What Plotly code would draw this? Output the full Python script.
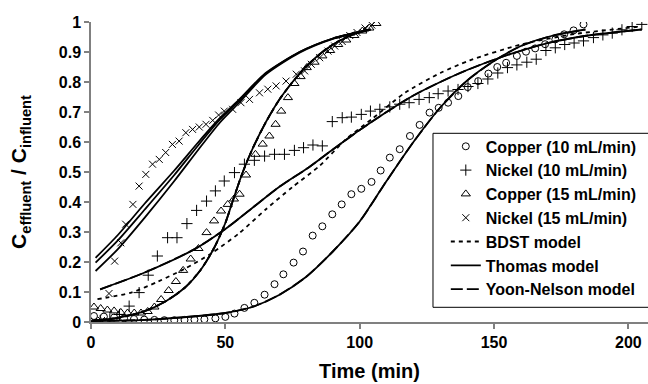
import plotly.graph_objects as go

# ---------------- data ----------------
cu10_t = [1.1, 4.8, 8.6, 12.3, 16, 19.8, 23.6, 27.3, 31, 34.8, 38.5, 42.2, 46.3, 50, 53.4, 57.1, 60.8,
          64.6, 68.3, 71.6, 75.4, 78.9, 82.5, 86.1, 89.8, 93.3, 96.9, 100.6, 104.4, 107.8, 111.2, 114.9,
          118.7, 122.3, 126, 129.4, 132.9, 136.7, 140.2, 144.1, 147.9, 151.2, 154.5, 158.5, 161.9, 165.3,
          169, 172.8, 176.1, 179.6, 183.3]
cu10_c = [0.02, 0.018, 0.015, 0.012, 0.01, 0.008, 0.007, 0.006, 0.006, 0.007, 0.008, 0.009, 0.012, 0.017,
          0.028, 0.047, 0.064, 0.091, 0.126, 0.159, 0.198, 0.235, 0.288, 0.319, 0.359, 0.392, 0.426, 0.444,
          0.467, 0.505, 0.548, 0.576, 0.62, 0.657, 0.698, 0.714, 0.731, 0.753, 0.783, 0.803, 0.828, 0.85,
          0.864, 0.887, 0.901, 0.912, 0.926, 0.942, 0.959, 0.972, 0.992]

ni10_t = [3.4, 7, 10.6, 14.2, 17.9, 21.3, 24.7, 28.5, 32, 35.7, 39.3, 43, 46.3, 49.6, 53.4, 57.1, 60.8,
          64.6, 68.3, 72, 75.7, 79.1, 82.6, 86.1, 89.8, 93.5, 96.9, 100.6, 104, 107.5, 111.2, 114.9, 118.4,
          122.1, 125.9, 129.2, 132.9, 136.6, 140.3, 144, 147.7, 151.4, 155, 158.5, 162.2, 165.7, 169.3,
          172.8, 176.3, 179.8, 183.3, 187, 190.5, 194, 197.6, 201.4, 205]
ni10_c = [0.005, 0.01, 0.025, 0.053, 0.098, 0.156, 0.22, 0.281, 0.281, 0.328, 0.372, 0.403, 0.437, 0.47,
          0.498, 0.526, 0.539, 0.553, 0.559, 0.559, 0.572, 0.581, 0.59, 0.587, 0.668, 0.681, 0.683, 0.692,
          0.703, 0.709, 0.717, 0.726, 0.731, 0.742, 0.748, 0.761, 0.77, 0.775, 0.785, 0.795, 0.81, 0.83,
          0.848, 0.857, 0.866, 0.876, 0.905, 0.914, 0.925, 0.93, 0.937, 0.948, 0.957, 0.963, 0.974, 0.985,
          0.992]

cu15_t = [1.1, 3.6, 6.1, 8.6, 11.1, 13.6, 16.1, 18.6, 21.1, 23.6, 26.1, 28.9, 31.6, 34.3, 37.1, 40, 43,
          45.8, 48.4, 50.9, 53.2, 55.3, 57.7, 61.2, 63.9, 66.4, 68.7, 70.8, 73.3, 75.7, 78, 80.3, 83.2,
          86.1, 89, 92, 95, 98, 101, 103.6, 106.2]
cu15_c = [0.05, 0.045, 0.04, 0.037, 0.032, 0.03, 0.03, 0.03, 0.035, 0.05, 0.075, 0.105, 0.135, 0.172,
          0.21, 0.245, 0.298, 0.337, 0.37, 0.392, 0.41, 0.426, 0.49, 0.559, 0.593, 0.62, 0.659, 0.703,
          0.748, 0.795, 0.818, 0.848, 0.866, 0.887, 0.905, 0.925, 0.94, 0.955, 0.97, 0.98, 0.995]

ni15_t = [1.1, 3.9, 6.7, 8.8, 11.1, 12.9, 15.6, 17.9, 20.4, 22.9, 25.4, 27.8, 30.3, 32.8, 35.3, 37.8,
          40.3, 42.8, 45.3, 47.5, 49.6, 52.7, 55.8, 59, 62.7, 65.8, 68.9, 72.6, 76.4, 79.5, 82, 85.1, 88.2,
          90.7, 93.5, 96.3, 99, 102, 104.5]
ni15_c = [0.003, 0.005, 0.095, 0.203, 0.264, 0.326, 0.392, 0.453, 0.492, 0.526, 0.542, 0.565, 0.592,
          0.603, 0.631, 0.642, 0.65, 0.659, 0.672, 0.69, 0.703, 0.709, 0.731, 0.742, 0.764, 0.776, 0.787,
          0.803, 0.826, 0.837, 0.859, 0.881, 0.903, 0.92, 0.935, 0.955, 0.965, 0.98, 0.99]

# model curves
cu10_model_t = [0, 20, 40, 50, 60, 70, 80, 90, 100, 110, 120, 130, 140, 150, 160, 172, 184]
cu10_model_c = [0.003, 0.007, 0.02, 0.03, 0.05, 0.09, 0.15, 0.235, 0.335, 0.47, 0.6, 0.715, 0.805,
                0.87, 0.92, 0.955, 0.975]

ni10_thomas_t = [3.4, 20, 38.4, 50, 60, 70, 81, 90, 100, 110, 120, 130, 140, 155, 170, 185, 205]
ni10_thomas_c = [0.109, 0.165, 0.242, 0.31, 0.38, 0.45, 0.515, 0.575, 0.64, 0.7, 0.755, 0.8, 0.84,
                 0.89, 0.93, 0.955, 0.975]
ni10_bdst_t = [2.4, 15, 25, 35, 45, 55, 65, 75, 85, 95, 105, 117, 130, 141, 160, 180, 205]
ni10_bdst_c = [0.076, 0.098, 0.135, 0.178, 0.23, 0.295, 0.375, 0.45, 0.52, 0.61, 0.68, 0.765, 0.83,
               0.872, 0.925, 0.96, 0.985]

cu15_model_t = [1, 10, 20, 28, 35, 41, 46, 50, 53, 56.5, 60, 65, 70, 75, 81, 87.6, 93, 98, 104]
cu15_model_c = [0.005, 0.014, 0.036, 0.07, 0.115, 0.176, 0.25, 0.33, 0.41, 0.5, 0.575, 0.665, 0.74,
                0.8, 0.86, 0.91, 0.94, 0.96, 0.975]

ni15_model_t = [1.7, 10, 20, 31, 40, 48, 55, 65, 77.6, 90, 104]
ni15_thomas_c = [0.214, 0.29, 0.395, 0.505, 0.6, 0.68, 0.74, 0.83, 0.9, 0.945, 0.975]
ni15_yn_c = [0.198, 0.272, 0.375, 0.49, 0.59, 0.675, 0.737, 0.828, 0.9, 0.945, 0.975]
ni15_bdst_c = [0.17, 0.243, 0.348, 0.47, 0.575, 0.665, 0.73, 0.825, 0.898, 0.944, 0.975]

x_ticks = [0, 50, 100, 150, 200]
y_ticks = [0, 0.1, 0.2, 0.3, 0.4, 0.5, 0.6, 0.7, 0.8, 0.9, 1]
y_tick_text = ["0", "0.1", "0.2", "0.3", "0.4", "0.5", "0.6", "0.7", "0.8", "0.9", "1"]

# ---------------- figure ----------------
FONT = "Liberation Sans, Arial, sans-serif"
BDST_DASH = "4px,4px"
YN_DASH = "12px,4px"

fig = go.Figure()


def model(x, y, dash, name=None, show=False, rank=100):
    fig.add_trace(go.Scatter(
        x=x, y=y, mode="lines", name=name or "model", showlegend=show, legendrank=rank,
        line=dict(color="black", width=1.8, dash=dash, shape="spline", smoothing=0.7),
        hoverinfo="skip"))


# model curves
model(cu15_model_t, cu15_model_c, BDST_DASH)
model(cu15_model_t, cu15_model_c, "solid")
model(cu15_model_t, cu15_model_c, YN_DASH)
model(ni15_model_t, ni15_bdst_c, "solid")
model(ni15_model_t, ni15_yn_c, "solid")
model(ni15_model_t, ni15_thomas_c, "solid")
model(ni10_bdst_t, ni10_bdst_c, BDST_DASH)
model(ni10_thomas_t, ni10_thomas_c, "solid")
model(ni10_thomas_t, ni10_thomas_c, YN_DASH)
model(cu10_model_t, cu10_model_c, "solid")
model(cu10_model_t, cu10_model_c, YN_DASH)


def data(x, y, name, symbol, rank, size=7):
    fig.add_trace(go.Scatter(
        x=x, y=y, mode="markers", name=name, legendrank=rank,
        marker=dict(symbol=symbol, size=size, color="black",
                    line=dict(color="black", width=1)),
        hoverinfo="skip"))


data(cu10_t, cu10_c, "Copper (10 mL/min)", "circle-open", 1)
data(ni10_t, ni10_c, "Nickel (10 mL/min)", "cross-thin-open", 2, 8)
data(cu15_t, cu15_c, "Copper (15 mL/min)", "triangle-up-open", 3, 8)
data(ni15_t, ni15_c, "Nickel (15 mL/min)", "x-thin-open", 4, 7)

# legend entries for the model line styles
for nm, dash, rk in [("BDST model", BDST_DASH, 5), ("Thomas model", "solid", 6),
                     ("Yoon-Nelson model", YN_DASH, 7)]:
    fig.add_trace(go.Scatter(x=[None], y=[None], mode="lines", name=nm, legendrank=rk,
                             line=dict(color="black", width=1.8, dash=dash)))

axis_common = dict(
    showline=True, linecolor="#808080", linewidth=1.5,
    ticks="outside", tickcolor="#808080", ticklen=5, tickwidth=1.5,
    showgrid=False, zeroline=False,
    tickfont=dict(family=FONT, size=16, color="black", weight="bold"),
)

fig.update_xaxes(range=[0, 207.3], tickvals=x_ticks, ticktext=[str(v) for v in x_ticks],
                 title=dict(text="Time (min)", font=dict(family=FONT, size=20, color="black", weight="bold"),
                            standoff=14),
                 **axis_common)
fig.update_yaxes(range=[0, 1], tickvals=y_ticks, ticktext=y_tick_text,
                 title=dict(text="C<sub>effluent</sub> / C<sub>influent</sub>",
                            font=dict(family=FONT, size=21, color="black", weight="bold"),
                            standoff=26),
                 **axis_common)

fig.update_layout(
    width=648, height=384,
    margin=dict(l=91, r=0, t=22, b=62),
    paper_bgcolor="white", plot_bgcolor="white",
    font=dict(family=FONT, color="black"),
    showlegend=True,
    legend=dict(x=0.637, y=0.642, xanchor="left", yanchor="top",
                bgcolor="rgba(0,0,0,0)", borderwidth=0,
                font=dict(family=FONT, size=16, color="black", weight="bold"),
                itemwidth=30, tracegroupgap=0),
    shapes=[dict(type="rect", xref="paper", yref="paper", x0=0.614, x1=1.05, y0=0.049, y1=0.629,
                 line=dict(color="black", width=1), fillcolor="white", layer="above")],
)

fig.write_html("out.html")
